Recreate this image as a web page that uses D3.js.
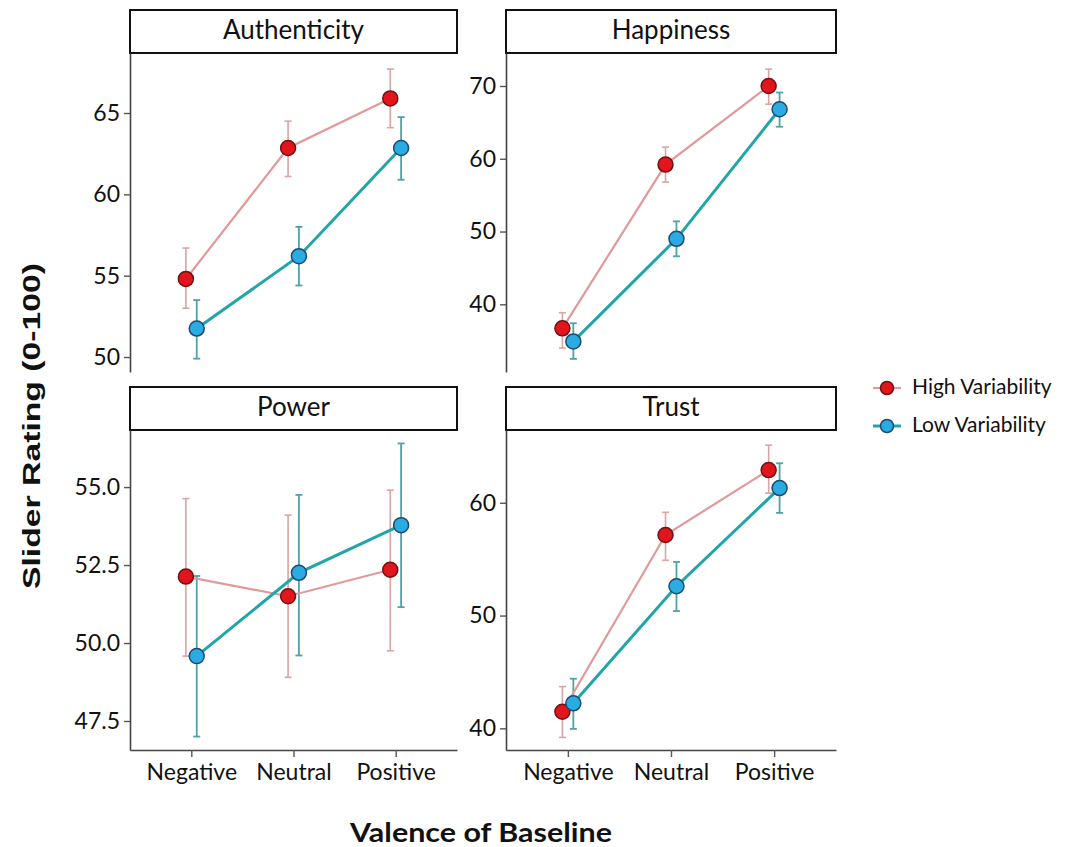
<!DOCTYPE html>
<html>
<head>
<meta charset="utf-8">
<script src="https://cdn.jsdelivr.net/npm/d3@7"></script>
<style>
  html, body { margin: 0; padding: 0; background: #ffffff; }
  svg { display: block; }
</style>
</head>
<body>
<svg id="chart" width="1070" height="847"></svg>
<script>
// ---------- data ----------
const categories = ["Negative", "Neutral", "Positive"];
const panels = ["Authenticity", "Happiness", "Power", "Trust"];
const seriesNames = ["High Variability", "Low Variability"];

const authHigh = [54.8, 62.85, 65.9];
const authHighLo = [53.0, 61.1, 64.1];
const authHighHi = [56.7, 64.5, 67.7];
const authLow = [51.75, 56.2, 62.85];
const authLowLo = [49.9, 54.4, 60.9];
const authLowHi = [53.5, 58.0, 64.75];

const hapHigh = [36.7, 59.2, 70.0];
const hapHighLo = [34.0, 56.8, 67.5];
const hapHighHi = [38.85, 61.6, 72.3];
const hapLow = [34.9, 49.0, 66.8];
const hapLowLo = [32.5, 46.6, 64.4];
const hapLowHi = [37.4, 51.4, 69.1];

const powHigh = [52.13, 51.5, 52.35];
const powHighLo = [49.58, 48.9, 49.75];
const powHighHi = [54.63, 54.1, 54.9];
const powLow = [49.58, 52.25, 53.78];
const powLowLo = [47.0, 49.6, 51.15];
const powLowHi = [52.15, 54.75, 56.4];

const trustHigh = [41.47, 57.14, 62.9];
const trustHighLo = [39.2, 54.9, 60.85];
const trustHighHi = [43.7, 59.15, 65.1];
const trustLow = [42.22, 52.6, 61.3];
const trustLowLo = [39.95, 50.4, 59.1];
const trustLowHi = [44.4, 54.75, 63.5];

const authTicks = [50, 55, 60, 65];
const hapTicks = [40, 50, 60, 70];
const powTicks = [47.5, 50, 52.5, 55];
const trustTicks = [40, 50, 60];

const authDomain = [49.08, 68.69];
const hapDomain = [30.7, 74.53];
const powDomain = [46.57, 56.83];
const trustDomain = [38.08, 66.45];

// ---------- build panel table ----------
const panelData = [
  { name: panels[0], domain: authDomain, ticks: authTicks, fmt: d3.format("d"),
    series: [
      { mean: authHigh, lo: authHighLo, hi: authHighHi },
      { mean: authLow, lo: authLowLo, hi: authLowHi } ] },
  { name: panels[1], domain: hapDomain, ticks: hapTicks, fmt: d3.format("d"),
    series: [
      { mean: hapHigh, lo: hapHighLo, hi: hapHighHi },
      { mean: hapLow, lo: hapLowLo, hi: hapLowHi } ] },
  { name: panels[2], domain: powDomain, ticks: powTicks, fmt: d3.format(".1f"),
    series: [
      { mean: powHigh, lo: powHighLo, hi: powHighHi },
      { mean: powLow, lo: powLowLo, hi: powLowHi } ] },
  { name: panels[3], domain: trustDomain, ticks: trustTicks, fmt: d3.format("d"),
    series: [
      { mean: trustHigh, lo: trustHighLo, hi: trustHighHi },
      { mean: trustLow, lo: trustLowLo, hi: trustLowHi } ] }
];

// ---------- layout ----------
const colX = [[130, 457], [506, 836]];
const rowY = [{ stripTop: 10, top: 53, bottom: 372 }, { stripTop: 387, top: 430, bottom: 750 }];

const styles = [
  { fill: "#e3151c", stroke: "#6e1212", line: "#e09a9a", lineW: 2.2, err: "#d9a4a4", errW: 1.6 },
  { fill: "#2aabe2", stroke: "#1d4a70", line: "#22a5a8", lineW: 3, err: "#4fa3a8", errW: 1.8 }
];
const dodge = [-0.053, 0.053];

const fontMain = "Lato, 'Open Sans', sans-serif";
const svg = d3.select("#chart");

panelData.forEach((p, i) => {
  const col = i % 2, row = Math.floor(i / 2);
  const [x0, x1] = colX[col];
  const ry = rowY[row];

  const x = d3.scalePoint().domain(categories).range([x0, x1]).padding(0.6);
  const y = d3.scaleLinear().domain(p.domain).range([ry.bottom, ry.top]);
  const step = x.step();

  const g = svg.append("g");

  // strip
  g.append("rect")
    .attr("x", x0).attr("y", ry.stripTop)
    .attr("width", x1 - x0).attr("height", ry.top - ry.stripTop)
    .attr("fill", "#ffffff").attr("stroke", "#111").attr("stroke-width", 2);
  g.append("text")
    .attr("x", (x0 + x1) / 2).attr("y", (ry.stripTop + ry.top) / 2 + 1)
    .attr("text-anchor", "middle").attr("dominant-baseline", "middle")
    .attr("font-family", fontMain).attr("font-size", 26).attr("fill", "#111")
    .text(p.name);

  // y axis
  const yAxis = d3.axisLeft(y).tickValues(p.ticks).tickFormat(p.fmt)
    .tickSizeInner(6).tickSizeOuter(0).tickPadding(4);
  const ya = g.append("g").attr("transform", `translate(${x0},0)`).call(yAxis);
  ya.select(".domain").attr("stroke", "#444").attr("stroke-width", 1.6);
  ya.selectAll(".tick line").attr("stroke", "#555").attr("stroke-width", 1.4);
  ya.selectAll(".tick text").attr("font-family", fontMain).attr("font-size", 23).attr("fill", "#111");

  // x axis on bottom row
  if (row === 1) {
    const xAxis = d3.axisBottom(x).tickSizeInner(7).tickSizeOuter(0).tickPadding(7);
    const xa = g.append("g").attr("transform", `translate(0,${ry.bottom})`).call(xAxis);
    xa.select(".domain").attr("stroke", "#444").attr("stroke-width", 1.6);
    xa.selectAll(".tick line").attr("stroke", "#555").attr("stroke-width", 1.4);
    xa.selectAll(".tick text").attr("font-family", fontMain).attr("font-size", 23).attr("fill", "#111");
  }

  // error bars
  p.series.forEach((s, si) => {
    const st = styles[si];
    const px = (k) => x(categories[k]) + dodge[si] * step;
    const pts = categories.map((c, k) => ({ k, m: s.mean[k], lo: s.lo[k], hi: s.hi[k] }));
    const eb = g.append("g").selectAll("g").data(pts).join("g");
    eb.append("line")
      .attr("x1", d => px(d.k)).attr("x2", d => px(d.k))
      .attr("y1", d => y(d.lo)).attr("y2", d => y(d.hi))
      .attr("stroke", st.err).attr("stroke-width", st.errW);
    eb.append("line")
      .attr("x1", d => px(d.k) - 3.5).attr("x2", d => px(d.k) + 3.5)
      .attr("y1", d => y(d.lo)).attr("y2", d => y(d.lo))
      .attr("stroke", st.err).attr("stroke-width", st.errW);
    eb.append("line")
      .attr("x1", d => px(d.k) - 3.5).attr("x2", d => px(d.k) + 3.5)
      .attr("y1", d => y(d.hi)).attr("y2", d => y(d.hi))
      .attr("stroke", st.err).attr("stroke-width", st.errW);
  });

  // lines
  p.series.forEach((s, si) => {
    const st = styles[si];
    const px = (k) => x(categories[k]) + dodge[si] * step;
    const pts = categories.map((c, k) => ({ k, m: s.mean[k] }));
    g.append("path")
      .datum(pts)
      .attr("fill", "none").attr("stroke", st.line).attr("stroke-width", st.lineW)
      .attr("d", d3.line().x(d => px(d.k)).y(d => y(d.m)));
  });

  // points
  p.series.forEach((s, si) => {
    const st = styles[si];
    const px = (k) => x(categories[k]) + dodge[si] * step;
    const pts = categories.map((c, k) => ({ k, m: s.mean[k] }));
    g.selectAll(null).data(pts).join("circle")
      .attr("cx", d => px(d.k)).attr("cy", d => y(d.m)).attr("r", 7.5)
      .attr("fill", st.fill).attr("stroke", st.stroke).attr("stroke-width", 1.5);
  });
});

// ---------- axis titles ----------
svg.append("text")
  .attr("transform", "translate(40,426) rotate(-90)")
  .attr("text-anchor", "middle")
  .attr("font-family", "'Liberation Sans', Arial, sans-serif")
  .attr("font-weight", "bold").attr("font-size", 24).attr("fill", "#111")
  .attr("textLength", 326).attr("lengthAdjust", "spacingAndGlyphs")
  .text("Slider Rating (0-100)");

svg.append("text")
  .attr("x", 481).attr("y", 842)
  .attr("text-anchor", "middle")
  .attr("font-family", fontMain)
  .attr("font-weight", "bold").attr("font-size", 27).attr("fill", "#111")
  .attr("textLength", 262).attr("lengthAdjust", "spacingAndGlyphs")
  .text("Valence of Baseline");

// ---------- legend ----------
const legend = svg.append("g");
seriesNames.forEach((name, si) => {
  const st = styles[si];
  const cy = 388 + si * 38;
  legend.append("line")
    .attr("x1", 873).attr("x2", 901).attr("y1", cy).attr("y2", cy)
    .attr("stroke", st.line).attr("stroke-width", st.lineW);
  legend.append("circle")
    .attr("cx", 887).attr("cy", cy).attr("r", 6.5)
    .attr("fill", st.fill).attr("stroke", st.stroke).attr("stroke-width", 1.5);
  legend.append("text")
    .attr("x", 912).attr("y", cy + 1).attr("dominant-baseline", "middle")
    .attr("font-family", fontMain).attr("font-size", 21).attr("fill", "#111")
    .text(name);
});
</script>
</body>
</html>
